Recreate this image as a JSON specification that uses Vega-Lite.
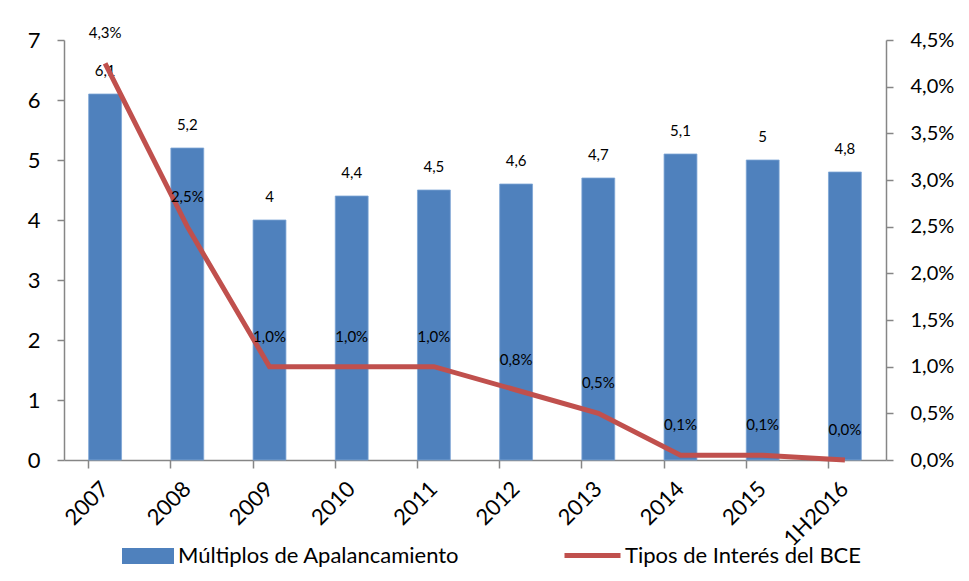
{
  "$schema": "https://vega.github.io/schema/vega-lite/v6.json",
  "width": 822,
  "height": 420,
  "autosize": {"type": "none"},
  "padding": {"left": 64, "top": 40, "right": 83, "bottom": 121},
  "background": "white",
  "data": {
    "values": [
      {"periodo": "2007", "multiplo": 6.1, "tipo": 0.0425},
      {"periodo": "2008", "multiplo": 5.2, "tipo": 0.025},
      {"periodo": "2009", "multiplo": 4.0, "tipo": 0.01},
      {"periodo": "2010", "multiplo": 4.4, "tipo": 0.01},
      {"periodo": "2011", "multiplo": 4.5, "tipo": 0.01},
      {"periodo": "2012", "multiplo": 4.6, "tipo": 0.0075},
      {"periodo": "2013", "multiplo": 4.7, "tipo": 0.005},
      {"periodo": "2014", "multiplo": 5.1, "tipo": 0.0005},
      {"periodo": "2015", "multiplo": 5.0, "tipo": 0.0005},
      {"periodo": "1H2016", "multiplo": 4.8, "tipo": 0.0}
    ]
  },
  "encoding": {
    "x": {
      "field": "periodo",
      "type": "ordinal",
      "sort": null,
      "title": null,
      "scale": {"paddingInner": 0.6, "paddingOuter": 0.3},
      "axis": {
        "bandPosition": 0,
        "labelAngle": -45,
        "labelAlign": "right",
        "labelBaseline": "middle",
        "labelFontSize": 22,
        "labelPadding": 17,
        "tickSize": 8
      }
    }
  },
  "layer": [
    {
      "encoding": {
        "y": {
          "field": "multiplo",
          "type": "quantitative",
          "title": null,
          "scale": {"domain": [0, 7], "nice": false},
          "axis": {
            "orient": "left",
            "values": [0, 1, 2, 3, 4, 5, 6, 7],
            "format": "d",
            "labelFontSize": 22,
            "labelPadding": 17,
            "tickSize": 7
          }
        }
      },
      "layer": [
        {
          "mark": {"type": "bar", "stroke": "#7EA6D6", "strokeWidth": 0.8},
          "encoding": {
            "color": {
              "datum": "Múltiplos de Apalancamiento",
              "type": "nominal",
              "scale": {"range": ["#4F81BD"]},
              "legend": {
                "title": null,
                "orient": "none",
                "legendX": 58,
                "legendY": 490,
                "symbolType": "M-1,-0.31H1V0.31H-1Z",
                "symbolSize": 2704,
                "symbolStrokeWidth": 0,
                "labelFontSize": 22,
                "labelOffset": 4
              }
            }
          }
        },
        {
          "mark": {"type": "text", "dy": -23, "fontSize": 15, "color": "#000000"},
          "encoding": {"text": {"field": "multiplo", "type": "quantitative", "format": ".1~f"}}
        }
      ]
    },
    {
      "encoding": {
        "y": {
          "field": "tipo",
          "type": "quantitative",
          "title": null,
          "scale": {"domain": [0, 0.045], "nice": false},
          "axis": {
            "orient": "right",
            "values": [0, 0.005, 0.01, 0.015, 0.02, 0.025, 0.03, 0.035, 0.04, 0.045],
            "format": ".1%",
            "labelFontSize": 20,
            "labelPadding": 17,
            "tickSize": 7
          }
        }
      },
      "layer": [
        {
          "mark": {"type": "line", "strokeWidth": 5, "strokeJoin": "miter"},
          "encoding": {
            "stroke": {
              "datum": "Tipos de Interés del BCE",
              "type": "nominal",
              "scale": {"range": ["#C0504D"]},
              "legend": {
                "title": null,
                "orient": "none",
                "legendX": 498,
                "legendY": 485,
                "symbolType": "stroke",
                "symbolSize": 3136,
                "symbolStrokeWidth": 5,
                "labelFontSize": 22,
                "labelOffset": 2
              }
            }
          }
        },
        {
          "mark": {"type": "text", "dy": -30, "fontSize": 15, "color": "#000000"},
          "encoding": {"text": {"field": "tipo", "type": "quantitative", "format": ".1%"}}
        }
      ]
    }
  ],
  "resolve": {"scale": {"y": "independent"}},
  "config": {
    "font": "Lato",
    "locale": {
      "number": {"decimal": ",", "thousands": ".", "grouping": [3], "currency": ["", " €"]}
    },
    "view": {"stroke": null},
    "axis": {
      "grid": false,
      "domainColor": "#868686",
      "tickColor": "#868686",
      "domainWidth": 1.5,
      "tickWidth": 1.5,
      "labelColor": "#000000",
      "labelFont": "Lato"
    },
    "legend": {
      "padding": 0,
      "labelFont": "Lato",
      "labelColor": "#000000",
      "labelLimit": 500
    }
  }
}
